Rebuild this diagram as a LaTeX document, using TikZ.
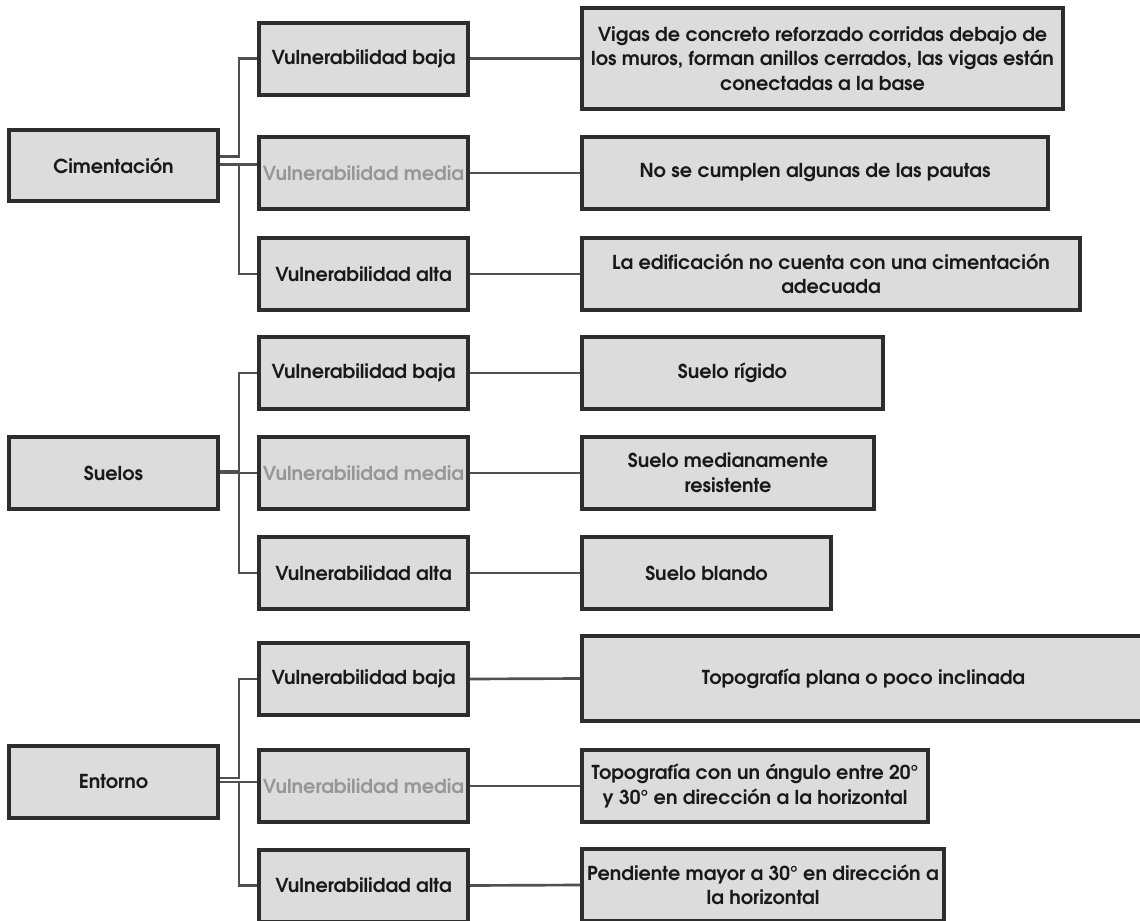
\documentclass[tikz,border=0pt]{standalone}
\usepackage{fontspec}
\setmainfont{texgyreadventor}[Extension=.otf, UprightFont=*-regular, BoldFont=*-bold]
\usepackage{xcolor}
\usetikzlibrary{positioning}
\definecolor{boxfill}{RGB}{220,220,220}
\definecolor{boxline}{RGB}{45,45,45}
\definecolor{linkgray}{RGB}{80,80,80}
\definecolor{fadetext}{RGB}{150,150,150}
\tikzset{
    box/.style={
        draw=boxline,
        fill=boxfill,
        rectangle,
        line width=3pt,
        inner sep=2pt,
        align=center,
        text=black!90,
        font=\fontsize{14.4}{18.4}\selectfont\bfseries
    },
    vul/.style={
        box,
        minimum width=156.75pt,
        minimum height=54pt
    },
    link/.style={
        draw=linkgray,
        line width=2pt
    }
}

\begin{document}
\begin{tikzpicture}[x=0.75pt, y=-0.75pt]
    \useasboundingbox (0,0) rectangle (1140,921);
    % Cimentacion
    \node[box, minimum width=156.75pt, minimum height=53.25pt] (cim) at (113.5,165.5) {Cimentación};
    \node[vul] (cimB) at (363.5,58.5) {Vulnerabilidad baja};
    \node[vul, text=fadetext] (cimM) at (363.5,173) {Vulnerabilidad media};
    \node[vul] (cimA) at (363.5,274) {Vulnerabilidad alta};
    \node[box, minimum width=360.75pt, minimum height=75.75pt] (cimB2) at (822.5,58.5) {Vigas de concreto reforzado corridas debajo de\\los muros, forman anillos cerrados, las vigas están\\conectadas a la base};
    \node[box, minimum width=349.5pt, minimum height=54pt] (cimM2) at (815,173) {No se cumplen algunas de las pautas};
    \node[box, minimum width=373.5pt, minimum height=54pt] (cimA2) at (831,274) {La edificación no cuenta con una cimentación\\adecuada};

    % Suelos
    \node[box, minimum width=156.75pt, minimum height=54pt] (suel) at (113.5,473) {Suelos};
    \node[vul] (suelB) at (363.5,373) {Vulnerabilidad baja};
    \node[vul, text=fadetext] (suelM) at (363.5,473) {Vulnerabilidad media};
    \node[vul] (suelA) at (363.5,573) {Vulnerabilidad alta};
    \node[box, minimum width=225.75pt, minimum height=54pt] (suelB2) at (732.5,373) {Suelo rígido};
    \node[box, minimum width=219pt, minimum height=54pt] (suelM2) at (728,473) {Suelo medianamente\\resistente};
    \node[box, minimum width=186.75pt, minimum height=54pt] (suelA2) at (706.5,573) {Suelo blando};

    % Entorno
    \node[box, minimum width=156.75pt, minimum height=54pt] (ent) at (113.5,782) {Entorno};
    \node[vul] (entB) at (363.5,679) {Vulnerabilidad baja};
    \node[vul, text=fadetext] (entM) at (363.5,786) {Vulnerabilidad media};
    \node[vul] (entA) at (363.5,885.5) {Vulnerabilidad alta};
    \node[box, minimum width=422.25pt, minimum height=63.75pt] (entB2) at (863.5,678.5) {Topografía plana o poco inclinada};
    \node[box, minimum width=259.5pt, minimum height=54pt] (entM2) at (755,786) {Topografía con un ángulo entre 20°\\y 30° en dirección a la horizontal};
    \node[box, minimum width=271.5pt, minimum height=54pt] (entA2) at (763,885) {Pendiente mayor a 30° en dirección a\\la horizontal};

    % Edges
    \draw[link] ([yshift=7pt]cim.east) -- ++(19,0) |- (cimB.west);
    \draw[link] ([yshift=1pt]cim.east) -- ([yshift=1pt]cim.east -| cimM.west);
    \draw[link] ([yshift=1pt]cim.east) -- ++(19,0) |- (cimA.west);
    \draw[link] (cimB.east) -- (cimB2.west);
    \draw[link] (cimM.east) -- (cimM2.west);
    \draw[link] (cimA.east) -- (cimA2.west);

    \draw[link] ([yshift=1.5pt]suel.east) -- ++(19,0) |- (suelB.west);
    \draw[link] (suel.east) -- (suelM.west);
    \draw[link] (suel.east) -- ++(19,0) |- (suelA.west);
    \draw[link] (suelB.east) -- (suelB2.west);
    \draw[link] (suelM.east) -- (suelM2.west);
    \draw[link] (suelA.east) -- (suelA2.west);

    \draw[link] ([yshift=3pt]ent.east) -- ++(19,0) |- (entB.west);
    \draw[link] (ent.east) -- (ent.east -| entM.west);
    \draw[link] (ent.east) -- ++(19,0) |- (entA.west);
    \draw[link] (entB.east) -- (entB2.west);
    \draw[link] (entM.east) -- (entM2.west);
    \draw[link] (entA.east) -- (entA2.west);
\end{tikzpicture}
\end{document}
